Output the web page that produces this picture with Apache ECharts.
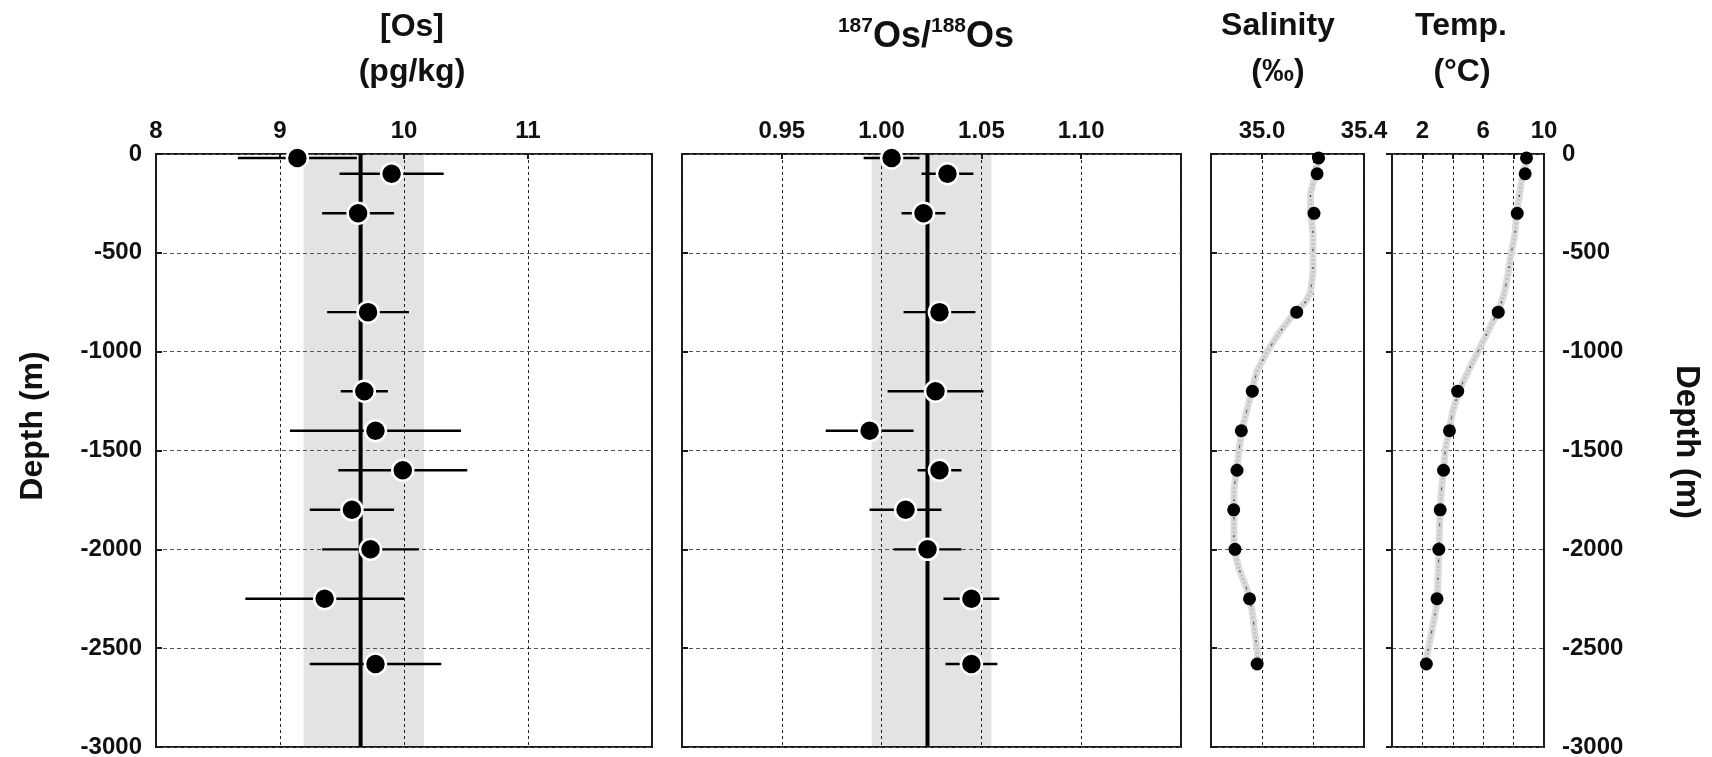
<!DOCTYPE html>
<html>
<head>
<meta charset="utf-8">
<script src="https://cdn.jsdelivr.net/npm/echarts@6/dist/echarts.min.js"></script>
<style>
html,body{margin:0;padding:0;background:#ffffff;}
#c{width:1712px;height:757px;}
</style>
</head>
<body>
<div id="c"></div>
<script>
// ---------------- DATA ----------------
const sampleDepth = [-20, -100, -300, -800, -1200, -1400, -1600, -1800, -2000, -2250, -2580];
const osConc      = [9.14, 9.90, 9.63, 9.71, 9.68, 9.77, 9.99, 9.58, 9.73, 9.36, 9.77];
const osConcErr   = [0.48, 0.42, 0.29, 0.33, 0.19, 0.69, 0.52, 0.34, 0.39, 0.64, 0.53];
const osConcBand  = [9.19, 10.16];
const osConcMean  = 9.65;

const osRatio     = [1.005, 1.033, 1.021, 1.029, 1.027, 0.994, 1.029, 1.012, 1.023, 1.045, 1.045];
const osRatioErr  = [0.014, 0.013, 0.011, 0.018, 0.024, 0.022, 0.011, 0.018, 0.017, 0.014, 0.013];
const osRatioBand = [0.995, 1.055];
const osRatioMean = 1.023;

const sampleSal   = [35.222, 35.216, 35.204, 35.136, 34.962, 34.919, 34.902, 34.889, 34.894, 34.951, 34.981];
const sampleTemp  = [8.85, 8.76, 8.24, 6.99, 4.32, 3.78, 3.39, 3.17, 3.08, 2.96, 2.26];

const ctdDepth = [-30, -100, -200, -300, -400, -500, -600, -700, -750, -800, -900, -1000, -1100, -1200, -1300, -1400, -1500, -1600, -1700, -1800, -1900, -2000, -2100, -2200, -2300, -2400, -2500, -2560];
const ctdSal   = [35.22, 35.21, 35.19, 35.19, 35.20, 35.20, 35.20, 35.19, 35.17, 35.13, 35.07, 35.02, 34.98, 34.96, 34.94, 34.92, 34.91, 34.90, 34.89, 34.89, 34.89, 34.89, 34.91, 34.94, 34.96, 34.97, 34.98, 34.985];
const ctdTemp  = [8.9, 8.6, 8.4, 8.2, 8.1, 7.85, 7.65, 7.4, 7.2, 6.95, 6.3, 5.65, 5.0, 4.4, 4.0, 3.75, 3.5, 3.4, 3.25, 3.17, 3.12, 3.08, 3.05, 3.0, 2.9, 2.65, 2.4, 2.25];

const osConcTicks  = ['8', '9', '10', '11'];
const osRatioTicks = ['0.95', '1.00', '1.05', '1.10'];
const salTicks     = ['35.0', '35.4'];
const tempTicks    = ['2', '6', '10'];
const depthTicks   = ['0', '-500', '-1000', '-1500', '-2000', '-2500', '-3000'];

// ---------------- CHART ----------------
const FONT = '"Liberation Sans", Arial, Helvetica, sans-serif';
const chart = echarts.init(document.getElementById('c'), null, {renderer: 'canvas'});

const gridDefs = [
  {left: 156, top: 154, width: 496, height: 593},
  {left: 682, top: 154, width: 499, height: 593},
  {left: 1211, top: 154, width: 153, height: 593},
  {left: 1392, top: 154, width: 152, height: 593}
];
const grids = gridDefs.map(g => Object.assign({}, g, {
  show: true, borderColor: '#1a1a1a', borderWidth: 2, backgroundColor: 'transparent',
  containLabel: false, outerBoundsMode: 'none'
}));

function xAx(gi, min, max, interval, labels, digits) {
  return {
    gridIndex: gi, type: 'value', position: 'top', min: min, max: max, interval: interval,
    axisLine: {show: false},
    axisTick: {show: true, inside: true, length: 5, lineStyle: {color: '#1a1a1a', width: 2}},
    axisLabel: {
      show: true, margin: 11, color: '#111', fontFamily: FONT, fontWeight: 'bold', fontSize: 24,
      showMinLabel: true, showMaxLabel: true, hideOverlap: false,
      formatter: function (v) { const s = Number(v).toFixed(digits); return labels.indexOf(s) >= 0 ? s : ''; }
    },
    splitLine: {show: true, lineStyle: {color: '#222', width: 1, type: [3, 3]}}
  };
}
function yAx(gi, side) {
  return {
    gridIndex: gi, type: 'value', min: -3000, max: 0, interval: 500, position: side || 'left',
    axisLine: {show: false},
    axisTick: {show: true, inside: true, length: 6, lineStyle: {color: '#1a1a1a', width: 2}},
    axisLabel: {
      show: !!side, margin: side === 'right' ? 18 : 14, color: '#111', fontFamily: FONT, fontWeight: 'bold', fontSize: 24,
      showMinLabel: true, showMaxLabel: true, hideOverlap: false,
      formatter: function (v) { const s = String(Math.round(v)); return depthTicks.indexOf(s) >= 0 ? s : ''; }
    },
    splitLine: {show: true, lineStyle: {color: '#555', width: 1, type: [4, 3]}}
  };
}

function bandSeries(gi, band) {
  return {
    type: 'custom', xAxisIndex: gi, yAxisIndex: gi, z: -1, silent: true,
    data: [[band[0], band[1]]],
    renderItem: function (params, api) {
      const p1 = api.coord([api.value(0), 0]);
      const p2 = api.coord([api.value(1), -3000]);
      return {type: 'rect', shape: {x: p1[0], y: p1[1], width: p2[0] - p1[0], height: p2[1] - p1[1]},
              style: {fill: '#e3e3e5'}};
    }
  };
}
function meanSeries(gi, mean) {
  return {
    type: 'custom', xAxisIndex: gi, yAxisIndex: gi, z: 1, silent: true,
    data: [[mean]],
    renderItem: function (params, api) {
      const p1 = api.coord([api.value(0), 0]);
      const p2 = api.coord([api.value(0), -3000]);
      return {type: 'line', shape: {x1: p1[0], y1: p1[1], x2: p2[0], y2: p2[1]},
              style: {stroke: '#000', lineWidth: 4}};
    }
  };
}
function errSeries(gi, vals, errs) {
  return {
    type: 'custom', xAxisIndex: gi, yAxisIndex: gi, z: 2, silent: true,
    data: vals.map((v, i) => [v - errs[i], v + errs[i], sampleDepth[i]]),
    renderItem: function (params, api) {
      const p1 = api.coord([api.value(0), api.value(2)]);
      const p2 = api.coord([api.value(1), api.value(2)]);
      return {type: 'line', shape: {x1: p1[0], y1: p1[1], x2: p2[0], y2: p2[1]},
              style: {stroke: '#000', lineWidth: 2.4}};
    }
  };
}
function bigDots(gi, vals) {
  return {
    type: 'scatter', xAxisIndex: gi, yAxisIndex: gi, z: 3, silent: true,
    symbol: 'circle', symbolSize: 21,
    itemStyle: {color: '#000', borderColor: '#fff', borderWidth: 2.5, opacity: 1},
    data: vals.map((v, i) => [v, sampleDepth[i]])
  };
}
function profile(gi, vals) {
  return [{
    type: 'line', xAxisIndex: gi, yAxisIndex: gi, z: 1, silent: true, showSymbol: false, symbol: 'none',
    lineStyle: {color: '#dcdcdc', width: 7}, data: vals.map((v, i) => [v, ctdDepth[i]])
  }, {
    type: 'line', xAxisIndex: gi, yAxisIndex: gi, z: 1, silent: true, showSymbol: false, symbol: 'none',
    lineStyle: {color: '#c4c4c4', width: 3, type: [2, 2]}, data: vals.map((v, i) => [v, ctdDepth[i]])
  }, {
    type: 'line', xAxisIndex: gi, yAxisIndex: gi, z: 1, silent: true, showSymbol: false, symbol: 'none',
    lineStyle: {color: '#444', width: 1.2, type: [2, 16]}, data: vals.map((v, i) => [v, ctdDepth[i]])
  }];
}
function smallDots(gi, vals) {
  return {
    type: 'scatter', xAxisIndex: gi, yAxisIndex: gi, z: 3, silent: true,
    symbol: 'circle', symbolSize: 13, itemStyle: {color: '#000', opacity: 1},
    data: vals.map((v, i) => [v, sampleDepth[i]])
  };
}

const titleStyle = (text, size) => ({text: text, fontFamily: FONT, fontWeight: 'bold', fontSize: size, fill: '#111',
                                      align: 'center', verticalAlign: 'middle'});

const option = {
  backgroundColor: '#ffffff',
  animation: false,
  grid: grids,
  xAxis: [
    xAx(0, 8, 12, 1, osConcTicks, 0),
    xAx(1, 0.9, 1.15, 0.05, osRatioTicks, 2),
    xAx(2, 34.8, 35.4, 0.2, salTicks, 1),
    xAx(3, 0, 10, 2, tempTicks, 0)
  ],
  yAxis: [yAx(0, 'left'), yAx(1), yAx(2), yAx(3, 'right')],
  series: [
    bandSeries(0, osConcBand), meanSeries(0, osConcMean), errSeries(0, osConc, osConcErr), bigDots(0, osConc),
    bandSeries(1, osRatioBand), meanSeries(1, osRatioMean), errSeries(1, osRatio, osRatioErr), bigDots(1, osRatio),
    ...profile(2, ctdSal), smallDots(2, sampleSal),
    ...profile(3, ctdTemp), smallDots(3, sampleTemp)
  ],
  graphic: [
    {type: 'text', x: 412, y: 27, style: titleStyle('[Os]', 32)},
    {type: 'text', x: 412, y: 72, style: titleStyle('(pg/kg)', 32)},
    {type: 'text', x: 926, y: 37, style: {
      text: '{s|187}{m|Os/}{s|188}{m|Os}', align: 'center', verticalAlign: 'middle', fill: '#111',
      rich: {
        s: {fontFamily: FONT, fontWeight: 'bold', fontSize: 21, fill: '#111', verticalAlign: 'top', lineHeight: 22},
        m: {fontFamily: FONT, fontWeight: 'bold', fontSize: 36, fill: '#111', lineHeight: 42}
      }
    }},
    {type: 'text', x: 1278, y: 26, style: titleStyle('Salinity', 32)},
    {type: 'text', x: 1278, y: 72, style: titleStyle('(\u2030)', 32)},
    {type: 'text', x: 1461, y: 26, style: titleStyle('Temp.', 32)},
    {type: 'text', x: 1462, y: 72, style: titleStyle('(\u00B0C)', 32)},
    {type: 'text', x: 33, y: 426, rotation: Math.PI / 2, style: titleStyle('Depth (m)', 32)},
    {type: 'text', x: 1686, y: 442, rotation: -Math.PI / 2, style: titleStyle('Depth (m)', 33)}
  ]
};
chart.setOption(option);
</script>
</body>
</html>
